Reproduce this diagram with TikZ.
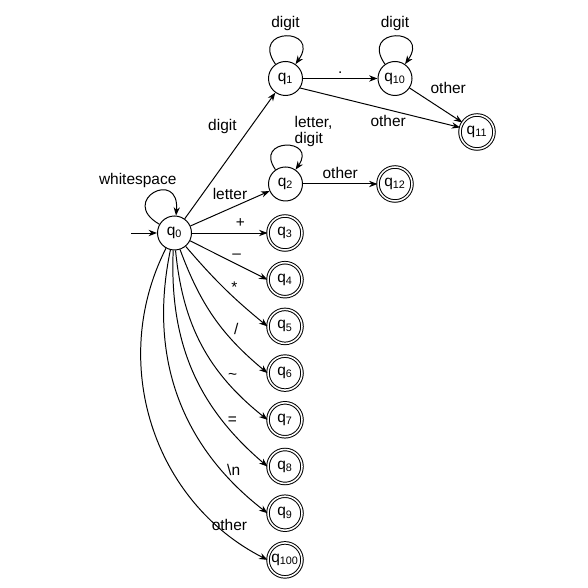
\documentclass[tikz,border=0pt]{standalone}
\usepackage{fontspec}
\setmainfont{Liberation Sans}
\usepackage{tikz}
\usetikzlibrary{arrows.meta}

\tikzset{
  state/.style={draw, circle, line width=0.7pt, minimum size=0.85cm, inner sep=0pt},
  final/.style={state, double, double distance=1.1pt},
  trans/.style={line width=0.7pt, -{Stealth[length=6pt, width=4.5pt]}},
}

\begin{document}
\begin{tikzpicture}[font=\fontsize{11}{13}\selectfont]
\useasboundingbox (0,0) rectangle (14.7,14.7);
\node [state] (q0) at (4.3625,8.875) {q\textsubscript{0}};
\node [state] (q1) at (7.1375,12.7375) {q\textsubscript{1}};
\node [state] (q10) at (9.875,12.7375) {q\textsubscript{10}};
\node [final] (q11) at (11.925,11.4) {q\textsubscript{11}};
\node [state] (q2) at (7.1375,10.1) {q\textsubscript{2}};
\node [final] (q12) at (9.875,10.1) {q\textsubscript{12}};
\node [final] (q3) at (7.125,8.875) {q\textsubscript{3}};
\node [final] (q4) at (7.125,7.7075) {q\textsubscript{4}};
\node [final] (q5) at (7.125,6.54) {q\textsubscript{5}};
\node [final] (q6) at (7.125,5.3725) {q\textsubscript{6}};
\node [final] (q7) at (7.125,4.205) {q\textsubscript{7}};
\node [final] (q8) at (7.125,3.0375) {q\textsubscript{8}};
\node [final] (q9) at (7.125,1.87) {q\textsubscript{9}};
\node [final] (q100) at (7.125,0.7025) {q\textsubscript{100}};
\coordinate (start) at (3.275,8.875);

\draw [trans] (start) -- (q0);
\draw [trans] (q0) to [out=150, in=85, looseness=6.5] node [above, xshift=-0.4cm] {whitespace} (q0);
\draw [trans] (q0) -- node [pos=0.63, above left] {digit} (q1);
\draw [trans] (q0) -- node [above, yshift=0.1cm] {letter} (q2);
\draw [trans] (q0) -- node [pos=0.64, above] {+} (q3);
\draw [trans] (q0) -- node [pos=0.6, above] {--} (q4.west);
\draw [trans] (q0) to [bend right=5] node [pos=0.63, above] {*} (q5.west);
\draw [trans] (q0) to [bend right=15] node [pos=0.6, right, xshift=0.15cm] {/} (q6.west);
\draw [trans] (q0) to [bend right=23] node [pos=0.7, right] {\textasciitilde} (q7.west);
\draw [trans] (q0) to [bend right=26] node [pos=0.75, right] {=} (q8.west);
\draw [trans] (q0) to [bend right=32] node [pos=0.8, right] {\textbackslash n} (q9.west);
\draw [trans] (q0) to [bend right=45] node [pos=0.88, above] {other} (q100.west);

\draw [trans] (q1) to [out=125, in=55, looseness=5.8] node [above] {digit} (q1);
\draw [trans] (q1) -- node [above] {.} (q10);
\draw [trans] (q10) to [out=125, in=55, looseness=5.8] node [above] {digit} (q10);
\draw [trans] (q10) -- node [pos=0.3, above right] {other} (q11);
\draw [trans] (q1.-33) -- node [pos=0.55, below] {other} (q11.165);
\draw [trans] (q2) to [out=125, in=55, looseness=5] node [anchor=south west, align=left, font=\fontsize{11}{11}\selectfont, xshift=0.1cm, yshift=-0.15cm] {letter,\\digit} (q2);
\draw [trans] (q2) -- node [above] {other} (q12);
\end{tikzpicture}
\end{document}
